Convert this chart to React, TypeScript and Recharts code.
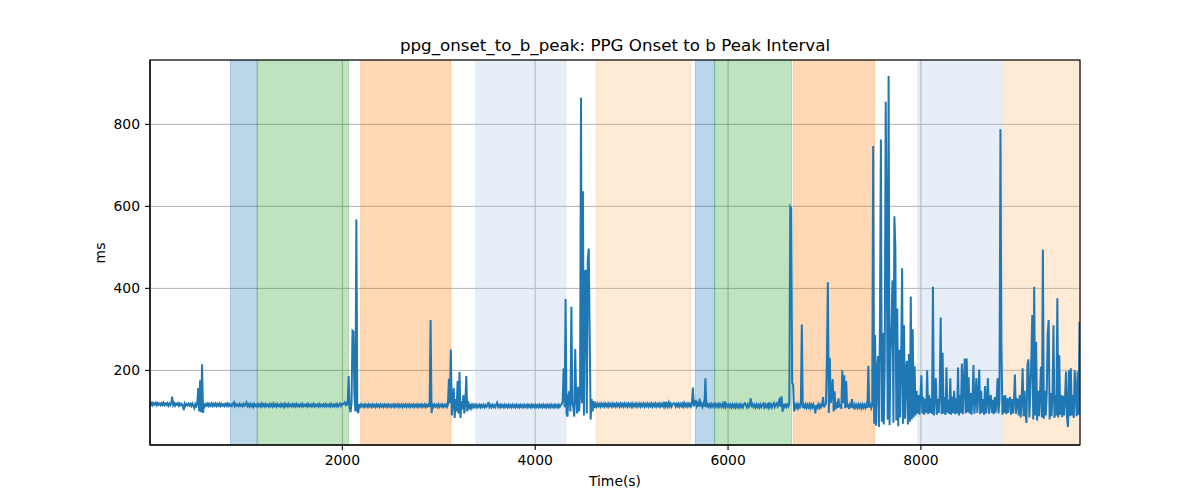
import React from 'react';
import {
  LineChart,
  Line,
  XAxis,
  YAxis,
  CartesianGrid,
  ReferenceArea,
} from 'recharts';

// Sampling grid of the trace: first sample time and step (seconds)
const T0 = 5;
const STEP = 10;

// Interval values (ms), one block per 500 s
const block00 = [122,116,121,115,120,117,121,115,120,116,119,115,120,116,121,115,119,116,120,114,119,115,120,136,115,120,114,119,116,120,114,119,115,118,114,103,119,114,118,115,119,114,118,113,119,114,108,118,113,118];
const block01 = [157,100,176,98,215,96,119,113,118,114,119,113,118,114,119,113,118,114,119,113,118,114,119,113,118,114,117,113,118,114,119,113,118,114,117,113,118,122,113,118,114,117,113,118,114,117,113,118,114,117];
const block02 = [122,113,117,112,118,113,117,111,118,113,116,112,118,113,117,112,119,113,117,112,118,113,116,112,118,113,117,112,119,113,117,112,118,113,116,112,118,113,117,111,118,113,117,112,118,113,116,112,118,113];
const block03 = [117,112,118,113,116,112,117,113,118,112,116,113,117,112,118,113,116,112,117,113,118,112,116,113,117,112,118,113,116,112,117,113,118,112,116,113,117,112,118,113,116,112,117,113,118,112,116,119,113,118];
const block04 = [117,119,122,116,120,115,186,110,98,120,297,295,140,100,568,102,96,118,112,117,112,116,111,117,112,116,111,117,112,116,111,117,112,116,111,117,112,116,111,117,112,116,111,117,112,116,111,117,112,116];
const block05 = [111,116,112,117,111,116,112,117,111,116,112,117,111,116,112,117,111,116,112,117,111,116,112,117,111,116,112,117,111,116,112,117,111,116,112,117,111,116,112,117,111,323,96,116,111,117,112,116,111,117];
const block06 = [111,116,112,117,111,116,112,117,111,116,180,120,251,90,120,157,84,130,100,174,95,196,84,125,105,140,95,120,186,100,125,105,118,108,116,110,116,111,116,110,115,111,116,110,115,111,116,110,115,111];
const block07 = [115,123,111,115,110,116,111,115,110,116,121,111,115,110,116,111,115,110,116,111,115,110,116,111,115,110,116,111,115,110,116,111,115,110,116,111,115,110,116,111,115,110,116,111,115,110,116,111,115,110];
const block08 = [116,111,115,110,116,111,115,110,116,111,115,110,116,111,115,110,116,111,115,110,116,111,115,110,116,111,115,118,125,205,110,374,95,87,140,150,100,355,120,110,87,252,130,95,160,100,140,865,120,637];
const block09 = [90,440,445,95,470,497,286,80,130,100,125,108,118,112,119,113,118,112,119,113,118,112,119,113,118,112,119,113,118,112,119,113,118,112,119,113,118,112,119,113,118,112,119,113,118,112,119,113,118,112];
const block10 = [119,112,118,113,119,112,118,113,119,112,118,113,119,112,118,113,119,112,118,113,119,112,118,113,119,112,118,113,119,112,118,113,119,112,123,113,119,112,121,113,119,112,118,120,119,112,118,113,119,112];
const block11 = [118,113,119,112,120,113,118,112,119,113,118,112,119,158,112,118,128,113,119,112,131,112,118,111,119,112,181,110,118,112,117,111,118,112,117,111,118,112,117,111,118,112,117,111,118,112,125,111,117,112];
const block12 = [117,111,116,110,117,111,116,110,117,111,116,110,117,111,116,110,117,120,116,110,117,111,116,132,110,117,111,116,110,117,111,116,110,117,111,116,119,110,117,111,116,110,122,111,117,110,116,120,111,117];
const block13 = [120,112,117,133,111,137,99,118,111,116,111,117,112,118,599,595,170,165,100,116,110,117,108,116,110,118,312,108,116,110,117,109,116,110,117,108,116,110,117,109,95,116,110,117,109,116,110,115,135,110];
const block14 = [116,118,225,415,96,231,120,140,179,100,149,105,122,108,132,110,118,106,200,120,188,108,174,110,118,106,116,110,130,110,108,117,110,116,109,117,110,116,108,117,110,116,109,117,108,211,110,116,108,116];
const block15 = [747,70,286,65,200,235,62,310,763,75,291,68,220,855,538,80,918,66,240,309,420,72,576,501,78,351,64,250,85,230,449,70,310,82,200,223,68,240,75,380,80,300,85,210,90,150,95,140,92,135];
const block16 = [188,95,135,92,130,97,200,93,140,96,132,94,404,90,138,181,92,130,96,142,329,93,243,95,135,91,207,97,128,94,181,92,136,96,150,93,132,95,207,90,140,96,217,93,165,229,95,229,98,183];
const block17 = [95,145,92,130,213,94,128,181,96,140,202,93,150,97,130,92,162,95,128,181,94,132,140,96,128,93,135,97,125,181,95,130,788,266,92,138,96,140,93,132,96,128,135,92,130,95,127,190,94,130];
const block18 = [128,90,140,85,132,205,88,150,92,72,213,227,85,150,227,335,80,404,90,270,78,150,88,140,209,85,495,82,150,90,145,290,323,80,145,88,140,310,84,140,90,376,85,237,92,140,86,138,90,135];
const block19 = [197,85,62,200,88,205,90,140,84,200,150,88,197,92,318];

const blocks = [block00, block01, block02, block03, block04, block05, block06, block07, block08, block09, block10, block11, block12, block13, block14, block15, block16, block17, block18, block19];
const values: number[] = blocks.flat();

// Shaded phases
const regionStart = [840, 1117, 2190, 3385, 4632, 5661, 5861, 6676, 7968, 8853];
const regionEnd = [1117, 2065, 3125, 4317, 5609, 5861, 6658, 7518, 8842, 9650];
const regionColor = ['#1f77b4', '#2ca02c', '#ff7f0e', '#aec7e8', '#ffbb78', '#1f77b4', '#2ca02c', '#ff7f0e', '#aec7e8', '#ffbb78'];

// Axes
const xTicks = [2000, 4000, 6000, 8000];
const yTicks = [200, 400, 600, 800];
const xDomain: [number, number] = [5, 9650];
const yDomain: [number, number] = [18, 957];

const title = 'ppg_onset_to_b_peak: PPG Onset to b Peak Interval';
const xLabel = 'Time(s)';
const yLabel = 'ms';

const data = values.map((v, i) => ({ t: T0 + i * STEP, v }));

const FONT = "'DejaVu Sans', sans-serif";
const tickStyle = { fill: '#000', fontSize: 13.9, fontFamily: FONT };

export default function App() {
  return (
    <div style={{ position: 'absolute', left: 0, top: 0, width: 1200, height: 500, background: '#fff' }}>
      <LineChart
        width={1200}
        height={500}
        data={data}
        margin={{ top: 60, right: 120, bottom: 0, left: 0 }}
      >
        <CartesianGrid stroke="#b0b0b0" strokeWidth={1} />
        {regionStart.map((s, i) => (
          <ReferenceArea
            key={i}
            x1={s}
            x2={regionEnd[i]}
            fill={regionColor[i]}
            fillOpacity={0.3}
            stroke={regionColor[i]}
            strokeOpacity={0.3}
            strokeWidth={1}
            ifOverflow="hidden"
          />
        ))}
        <XAxis
          dataKey="t"
          type="number"
          domain={xDomain}
          ticks={xTicks}
          allowDataOverflow
          height={55}
          tickSize={5}
          tickMargin={5}
          tick={tickStyle}
          axisLine={{ stroke: '#000', strokeWidth: 1.1 }}
          tickLine={{ stroke: '#000', strokeWidth: 1.1 }}
        />
        <YAxis
          type="number"
          domain={yDomain}
          ticks={yTicks}
          allowDataOverflow
          width={150}
          tickSize={5}
          tickMargin={5}
          tick={tickStyle}
          axisLine={{ stroke: '#000', strokeWidth: 1.1 }}
          tickLine={{ stroke: '#000', strokeWidth: 1.1 }}
        />
        <Line
          dataKey="v"
          type="linear"
          stroke="#1f77b4"
          strokeWidth={2}
          dot={false}
          activeDot={false}
          isAnimationActive={false}
        />
      </LineChart>
      <svg
        width={1200}
        height={500}
        style={{ position: 'absolute', left: 0, top: 0, pointerEvents: 'none' }}
      >
        <rect x={150} y={60} width={930} height={385} fill="none" stroke="#000" strokeWidth={1.1} />
        <text x={615} y={51} textAnchor="middle" fontFamily={FONT} fontSize={16.7} fill="#000">
          {title}
        </text>
        <text x={615} y={486} textAnchor="middle" fontFamily={FONT} fontSize={13.9} fill="#000">
          {xLabel}
        </text>
        <text
          x={105}
          y={253}
          textAnchor="middle"
          fontFamily={FONT}
          fontSize={13.9}
          fill="#000"
          transform="rotate(-90 105 253)"
        >
          {yLabel}
        </text>
      </svg>
    </div>
  );
}
